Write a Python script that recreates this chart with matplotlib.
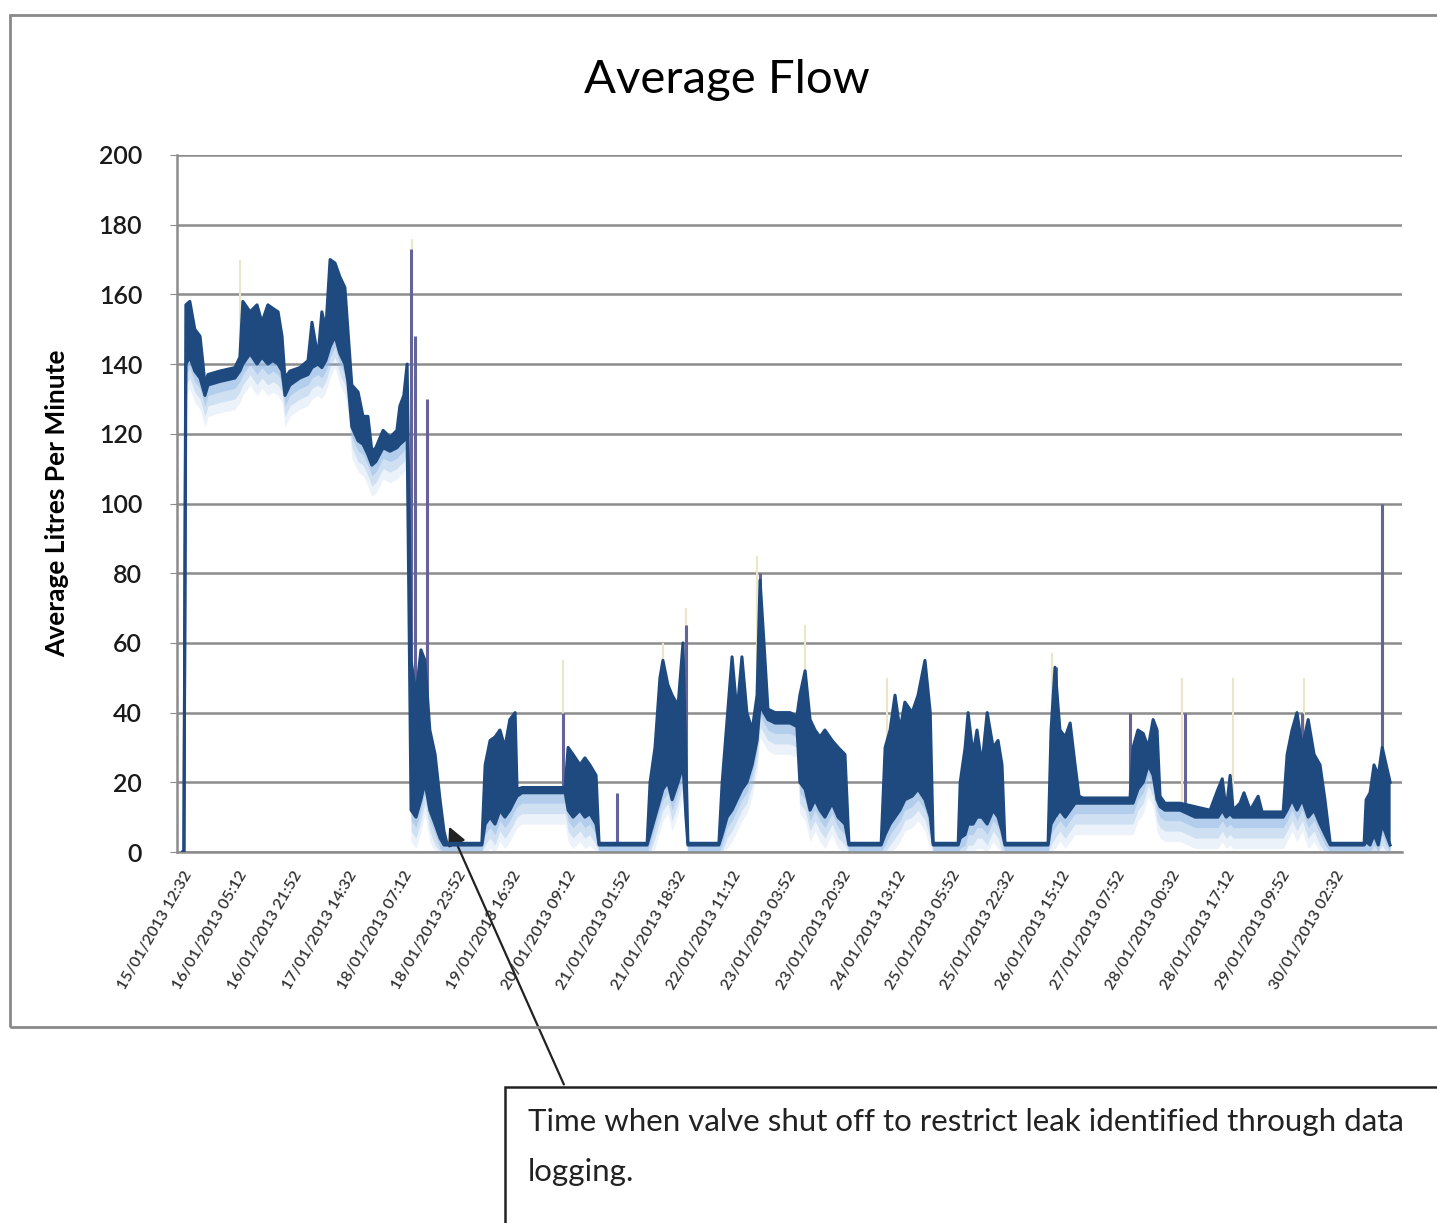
import matplotlib
matplotlib.use('Agg')
import matplotlib.pyplot as plt
import numpy as np
from matplotlib.patches import Rectangle

plt.rcParams['font.family'] = ['Lato', 'DejaVu Sans']

# hours since 15/01/2013 12:32, with the low / high envelope of the noisy flow trace
hours = [0, 0.3, 0.9, 2.1, 3.6, 5.2, 6.1, 6.7, 7.6, 11.2, 15.8, 17.3, 18.2, 20.4, 22.5, 24.0,
         25.8, 27.3, 28.9, 30.1, 31.0, 32.5, 35.5, 38.0, 39.2, 41.0, 42.2, 43.4, 44.7, 46.2,
         47.7, 49.2, 50.1, 51.3, 53.2, 54.7, 56.2, 57.4, 58.6, 60.8, 62.9, 65.0, 65.9, 67.1,
         68.1, 69.3, 70.8, 72.3, 73.5, 75.0, 76.6, 78.1, 79.3, 80.2, 90.8, 91.8, 93.3, 94.8,
         96.3, 97.8, 99.3, 100.9, 101.5, 103.0, 116.1, 117.0, 118.5, 120.6, 122.1, 123.6,
         125.5, 126.4, 141.0, 141.9, 143.4, 144.9, 145.8, 147.3, 148.6, 150.4, 151.9, 152.8,
         153.4, 162.8, 163.8, 165.3, 166.8, 168.3, 169.8, 171.3, 172.9, 174.4, 175.3, 176.5,
         177.7, 179.9, 184.4, 186.5, 187.4, 189.0, 190.5, 192.0, 193.5, 195.0, 197.2, 199.0,
         201.1, 202.3, 212.1, 213.3, 214.8, 216.3, 217.8, 219.3, 221.5, 223.3, 225.4, 227.0,
         227.9, 235.5, 236.1, 237.6, 238.5, 240.0, 241.2, 242.7, 244.3, 246.1, 247.6, 248.8,
         249.7, 262.8, 263.7, 264.9, 266.4, 268.0, 269.5, 271.0, 272.2, 273.4, 287.7, 288.6,
         290.1, 291.7, 293.2, 294.7, 295.9, 296.8, 298.3, 302.9, 307.5, 312.0, 314.4, 315.7,
         316.9, 318.1, 319.0, 321.1, 322.3, 324.2, 326.6, 327.8, 334.2, 335.4, 336.9, 338.4,
         340.0, 341.8, 343.6, 345.4, 346.9, 348.5, 358.8, 359.4, 360.6, 361.8, 363.1, 364.3,
         365.5, 366.7]
flow_low = [0, 0, 140, 142, 138, 136, 133, 131, 134, 135, 136, 138, 140, 143, 140, 142,
            140, 141, 140, 138, 131, 134, 136, 137, 139, 140, 139, 141, 145, 148,
            143, 140, 135, 122, 118, 117, 114, 111, 112, 116, 115, 116, 117, 118,
            120, 12, 10, 15, 20, 12, 8, 4, 2, 2, 2, 8, 10, 8,
            12, 10, 12, 15, 16, 17, 17, 12, 10, 12, 10, 11,
            8, 2, 2, 5, 10, 15, 18, 20, 15, 20, 25, 10,
            2, 2, 5, 10, 12, 15, 18, 20, 25, 32, 42, 40,
            38, 37, 37, 36, 20, 18, 12, 15, 12, 10, 14, 10,
            8, 2, 2, 5, 8, 10, 12, 15, 16, 18, 15, 10,
            2, 2, 4, 5, 8, 8, 10, 10, 8, 12, 10, 6,
            2, 2, 8, 10, 12, 10, 12, 14, 14, 14, 14, 14,
            18, 20, 25, 22, 15, 13, 12, 12, 10, 10, 10, 12,
            10, 11, 10, 10, 10, 10, 10, 10, 10, 12, 15, 12,
            15, 10, 12, 8, 5, 2, 2, 3, 2, 5, 2, 8,
            5, 2]
flow_high = [0, 0, 157, 158, 150, 148, 140, 134, 137, 138, 139, 142, 158, 155, 157, 152,
             157, 156, 155, 148, 136, 138, 139, 141, 152, 142, 155, 150, 170, 169,
             165, 162, 150, 134, 132, 125, 125, 115, 116, 121, 119, 121, 128, 131,
             140, 55, 45, 58, 55, 35, 28, 15, 6, 2.5, 2.5, 25, 32, 33,
             35, 30, 38, 40, 18, 18.5, 18.5, 30, 28, 25, 27, 25,
             22, 2.5, 2.5, 20, 30, 50, 55, 48, 45, 42, 60, 25,
             2.5, 2.5, 20, 38, 56, 40, 56, 40, 35, 45, 78, 60,
             41, 40, 40, 39, 45, 52, 38, 35, 33, 35, 32, 30,
             28, 2.5, 2.5, 30, 35, 45, 35, 43, 40, 45, 55, 40,
             2.5, 2.5, 20, 30, 40, 28, 35, 25, 40, 30, 32, 25,
             2.5, 2.5, 35, 53, 35, 33, 37, 25, 16, 15.5, 15.5, 30,
             35, 34, 30, 38, 35, 16, 14, 14, 13, 12, 18, 21,
             12, 22, 12, 14, 17, 12, 16, 11.5, 11.5, 28, 35, 40,
             30, 38, 28, 25, 15, 2.5, 2.5, 15, 17, 25, 22, 30,
             25, 20]

# isolated one-reading spikes
spike_hours = [69.3, 70.5, 74.1, 115.4, 131.9, 152.8, 175.3, 265.2, 287.7, 304.4, 340.0, 364.3]
spike_values = [173, 148, 130, 40, 17, 65, 80, 53, 40, 40, 40, 100]

# faint pale highlights above some peaks
glint_hours = [17.3, 69.6, 115.4, 145.8, 152.8, 174.4, 189.0, 213.9, 264.0, 303.5, 319.0, 340.6]
glint_values = [170, 176, 55, 60, 70, 85, 65, 50, 57, 50, 50, 50]

tick_labels = ['15/01/2013 12:32', '16/01/2013 05:12', '16/01/2013 21:52', '17/01/2013 14:32',
               '18/01/2013 07:12', '18/01/2013 23:52', '19/01/2013 16:32', '20/01/2013 09:12',
               '21/01/2013 01:52', '21/01/2013 18:32', '22/01/2013 11:12', '23/01/2013 03:52',
               '23/01/2013 20:32', '24/01/2013 13:12', '25/01/2013 05:52', '25/01/2013 22:32',
               '26/01/2013 15:12', '27/01/2013 07:52', '28/01/2013 00:32', '28/01/2013 17:12',
               '29/01/2013 09:52', '30/01/2013 02:32']
tick_hours = np.arange(len(tick_labels)) * 1000 / 60.0

x = np.array(hours)
lo = np.array(flow_low, dtype=float)
hi = np.array(flow_high, dtype=float)

W, H = 1437, 1223
fig = plt.figure(figsize=(W / 100, H / 100), dpi=100)

# chart frame (runs off the right edge)
fig.patches.append(Rectangle((10 / W, 1 - 1027 / H), 1.2, (1027 - 15) / H,
                             transform=fig.transFigure, fill=False,
                             edgecolor='#8a8a8a', lw=2, zorder=0))

ax = fig.add_axes([177 / W, 1 - 852 / H, (1402 - 177) / W, (852 - 155) / H])

dark = '#1f4a80'
# soft light-blue shadow under the trace
for off, a in [(9, 0.2), (6, 0.35), (3, 0.55)]:
    ax.fill_between(x, np.maximum(lo - off, 0), lo, color='#9cbfe8', alpha=a, lw=0, zorder=2)

# spikes and glints start from the trace underneath them
glint_base = np.interp(glint_hours, x, hi)
spike_base = np.interp(spike_hours, x, lo)
ax.vlines(glint_hours, glint_base, glint_values, color='#ece6c8', lw=1.5, zorder=2)
ax.vlines(spike_hours, spike_base, spike_values, color='#65649a', lw=2.2, zorder=3)
ax.fill_between(x, lo, hi, color=dark, lw=0, zorder=4)
ax.plot(x, hi, color=dark, lw=2.2, zorder=4)
ax.plot(x, lo, color=dark, lw=2.2, zorder=4)

ax.set_xlim(-1.8, 370.3)
ax.set_ylim(0, 200)
ax.set_yticks(np.arange(0, 201, 20))
ax.yaxis.grid(True, color='#8c8c8c', lw=1.8)
ax.set_axisbelow(True)
for s in ['top', 'right']:
    ax.spines[s].set_visible(False)
ax.spines['left'].set_color('#8c8c8c')
ax.spines['bottom'].set_color('#8c8c8c')
ax.spines['left'].set_linewidth(1.8)
ax.spines['bottom'].set_linewidth(1.8)
ax.tick_params(axis='y', length=5, color='#8c8c8c', pad=20, labelsize=18, labelcolor='#1a1a1a')
for t in ax.get_yticklabels():
    t.set_fontweight('semibold')

ax.set_xticks(tick_hours)
ax.set_xticklabels(tick_labels, rotation=60, ha='right', rotation_mode='anchor',
                   fontsize=11.5, color='#333333', fontweight='semibold')
ax.tick_params(axis='x', length=0, pad=12)

ax.set_ylabel('Average Litres Per Minute', fontsize=19, fontweight='bold')
ax.yaxis.set_label_coords(-0.088, 0.5)

fig.text(727 / W, 1 - 80 / H, 'Average Flow', ha='center', va='center', fontsize=34)

# annotation box and arrow
fig.patches.append(Rectangle((505 / W, -0.1), 1.0, 0.1 + (1223 - 1087) / H,
                             transform=fig.transFigure, fill=False,
                             edgecolor='#222222', lw=1.8, zorder=0))
fig.text(528 / W, 1 - 1122 / H, 'Time when valve shut off to restrict leak identified through data',
         ha='left', va='center', fontsize=22.5, color='#222222')
fig.text(528 / W, 1 - 1172 / H, 'logging.', ha='left', va='center', fontsize=22.5, color='#222222')
ax.annotate('', xy=(80.5, 8), xycoords='data',
            xytext=(565 / W, 1 - 1087 / H), textcoords='figure fraction',
            arrowprops=dict(arrowstyle='-|>', color='#222222', lw=1.6, mutation_scale=28),
            annotation_clip=False)

fig.savefig('out.png', dpi=100)
